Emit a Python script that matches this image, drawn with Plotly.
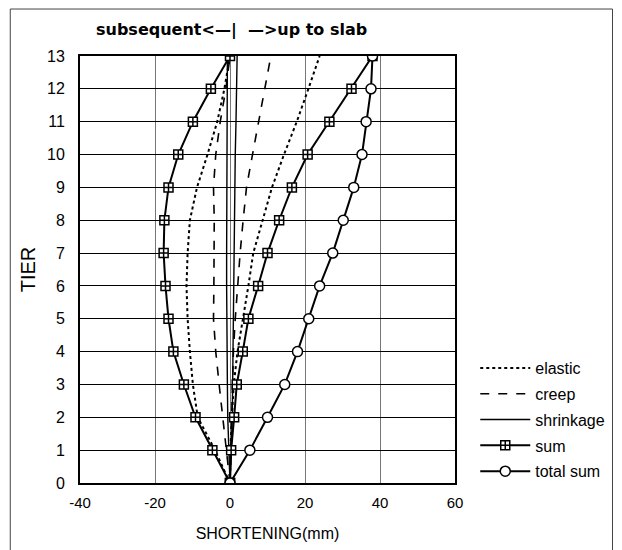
import plotly.graph_objects as go

tiers = list(range(0, 14))

# "up to slab" components (positive side)
elastic_up = [0, 0.1, 0.5, 1.0, 2.0, 3.5, 4.9, 6.2, 8.7, 11.2, 14.4, 17.8, 20.9, 23.9]
creep_up = [0, 0.2, 0.4, 0.7, 0.9, 1.4, 2.0, 2.7, 3.5, 4.4, 6.0, 7.7, 9.2, 10.9]
shrink_up = [0, 0.4, 0.6, 0.7, 0.8, 0.9, 0.9, 1.0, 1.1, 1.3, 1.4, 1.6, 1.7, 1.9]
sum_up = [0, 0.3, 1.1, 1.8, 3.4, 4.9, 7.5, 10.0, 13.1, 16.5, 20.7, 26.5, 32.4, 38.0]

# "subsequent" components (negative side)
elastic_sub = [0, -4.0, -8.6, -9.9, -10.7, -11.3, -11.6, -11.3, -10.7, -8.8, -6.0, -3.4, -1.5, 0]
creep_sub = [0, -1.0, -2.1, -2.9, -3.8, -4.4, -4.3, -4.2, -4.2, -4.4, -3.8, -2.6, -1.1, 0]
shrink_sub = [0, -0.4, -0.6, -0.7, -0.8, -0.8, -0.9, -0.9, -0.9, -0.9, -0.9, -0.8, -0.8, -0.7]
sum_sub = [0, -4.7, -9.2, -12.3, -15.1, -16.4, -17.2, -17.7, -17.5, -16.4, -13.8, -9.9, -5.1, 0]

total_sum = [0, 5.3, 10.0, 14.6, 18.0, 21.0, 23.9, 27.4, 30.2, 33.0, 35.2, 36.3, 37.6, 38.0]

x_tickvals = [-40, -20, 0, 20, 40, 60]
x_ticktext = ["-40", "-20", "0", "20", "40", "60"]

FONT = "Liberation Sans, Arial, sans-serif"

fig = go.Figure()

def add_line(x, name, group, show, dash, width):
    fig.add_trace(go.Scatter(
        x=x, y=tiers, mode="lines", name=name, legendgroup=group, showlegend=show,
        line=dict(color="black", width=width, dash=dash),
    ))

add_line(elastic_up, "elastic", "elastic", True, "dot", 2)
add_line(elastic_sub, "elastic", "elastic", False, "dot", 2)
add_line(creep_up, "creep", "creep", True, "dash", 1.6)
add_line(creep_sub, "creep", "creep", False, "dash", 1.6)
add_line(shrink_up, "shrinkage", "shrinkage", True, "solid", 1.4)
add_line(shrink_sub, "shrinkage", "shrinkage", False, "solid", 1.4)

for xs, show in [(sum_up, True), (sum_sub, False)]:
    fig.add_trace(go.Scatter(
        x=xs, y=tiers, mode="lines+markers", name="sum", legendgroup="sum", showlegend=show,
        line=dict(color="black", width=2),
        marker=dict(symbol="square-cross", size=9, color="white",
                    line=dict(color="black", width=1.5)),
    ))

fig.add_trace(go.Scatter(
    x=total_sum, y=tiers, mode="lines+markers", name="total sum", legendgroup="total",
    line=dict(color="black", width=2),
    marker=dict(symbol="circle", size=10, color="white", line=dict(color="black", width=1.5)),
))

fig.update_layout(
    width=622, height=550,
    margin=dict(l=80, r=160, t=56, b=67),
    paper_bgcolor="white", plot_bgcolor="white",
    font=dict(family=FONT, color="black", size=14),
    showlegend=True,
    legend=dict(x=1.054, y=0.309, xanchor="left", yanchor="top",
                font=dict(size=16, family=FONT, color="black"), traceorder="grouped",
                tracegroupgap=2, bgcolor="rgba(0,0,0,0)", itemwidth=50),
    xaxis=dict(range=[-40, 60], tickvals=x_tickvals, ticktext=x_ticktext,
               showgrid=True, gridcolor="#777777", gridwidth=1, zeroline=False,
               showline=True, linecolor="black", linewidth=2, mirror=True,
               ticks="", tickfont=dict(size=15, color="black"), automargin=False,
               ticklabelstandoff=5,
               title=dict(text="SHORTENING(mm)", font=dict(size=16, color="black"), standoff=18)),
    yaxis=dict(range=[0, 13], tickvals=tiers, showgrid=True, gridcolor="black",
               gridwidth=1.2, zeroline=False,
               showline=True, linecolor="black", linewidth=2, mirror=True,
               ticks="", tickfont=dict(size=16, color="black"), automargin=False,
               ticklabelstandoff=10,
               title=dict(text="TIER", font=dict(size=20, color="black"), standoff=6)),
    annotations=[dict(text="<b>subsequent<—|  —>up to slab</b>", x=0.405, y=1.062,
                      xref="paper", yref="paper", showarrow=False,
                      font=dict(size=16, family="DejaVu Sans, sans-serif", color="black"),
                      xanchor="center", yanchor="middle")],
    shapes=[dict(type="rect", xref="paper", yref="paper",
                 x0=-0.186, x1=1.42, y0=-0.16, y1=1.11,
                 line=dict(color="#444444", width=1))],
)

fig.write_html("out.html", config={"displayModeBar": False},
               post_script="document.body.style.margin='0';")
